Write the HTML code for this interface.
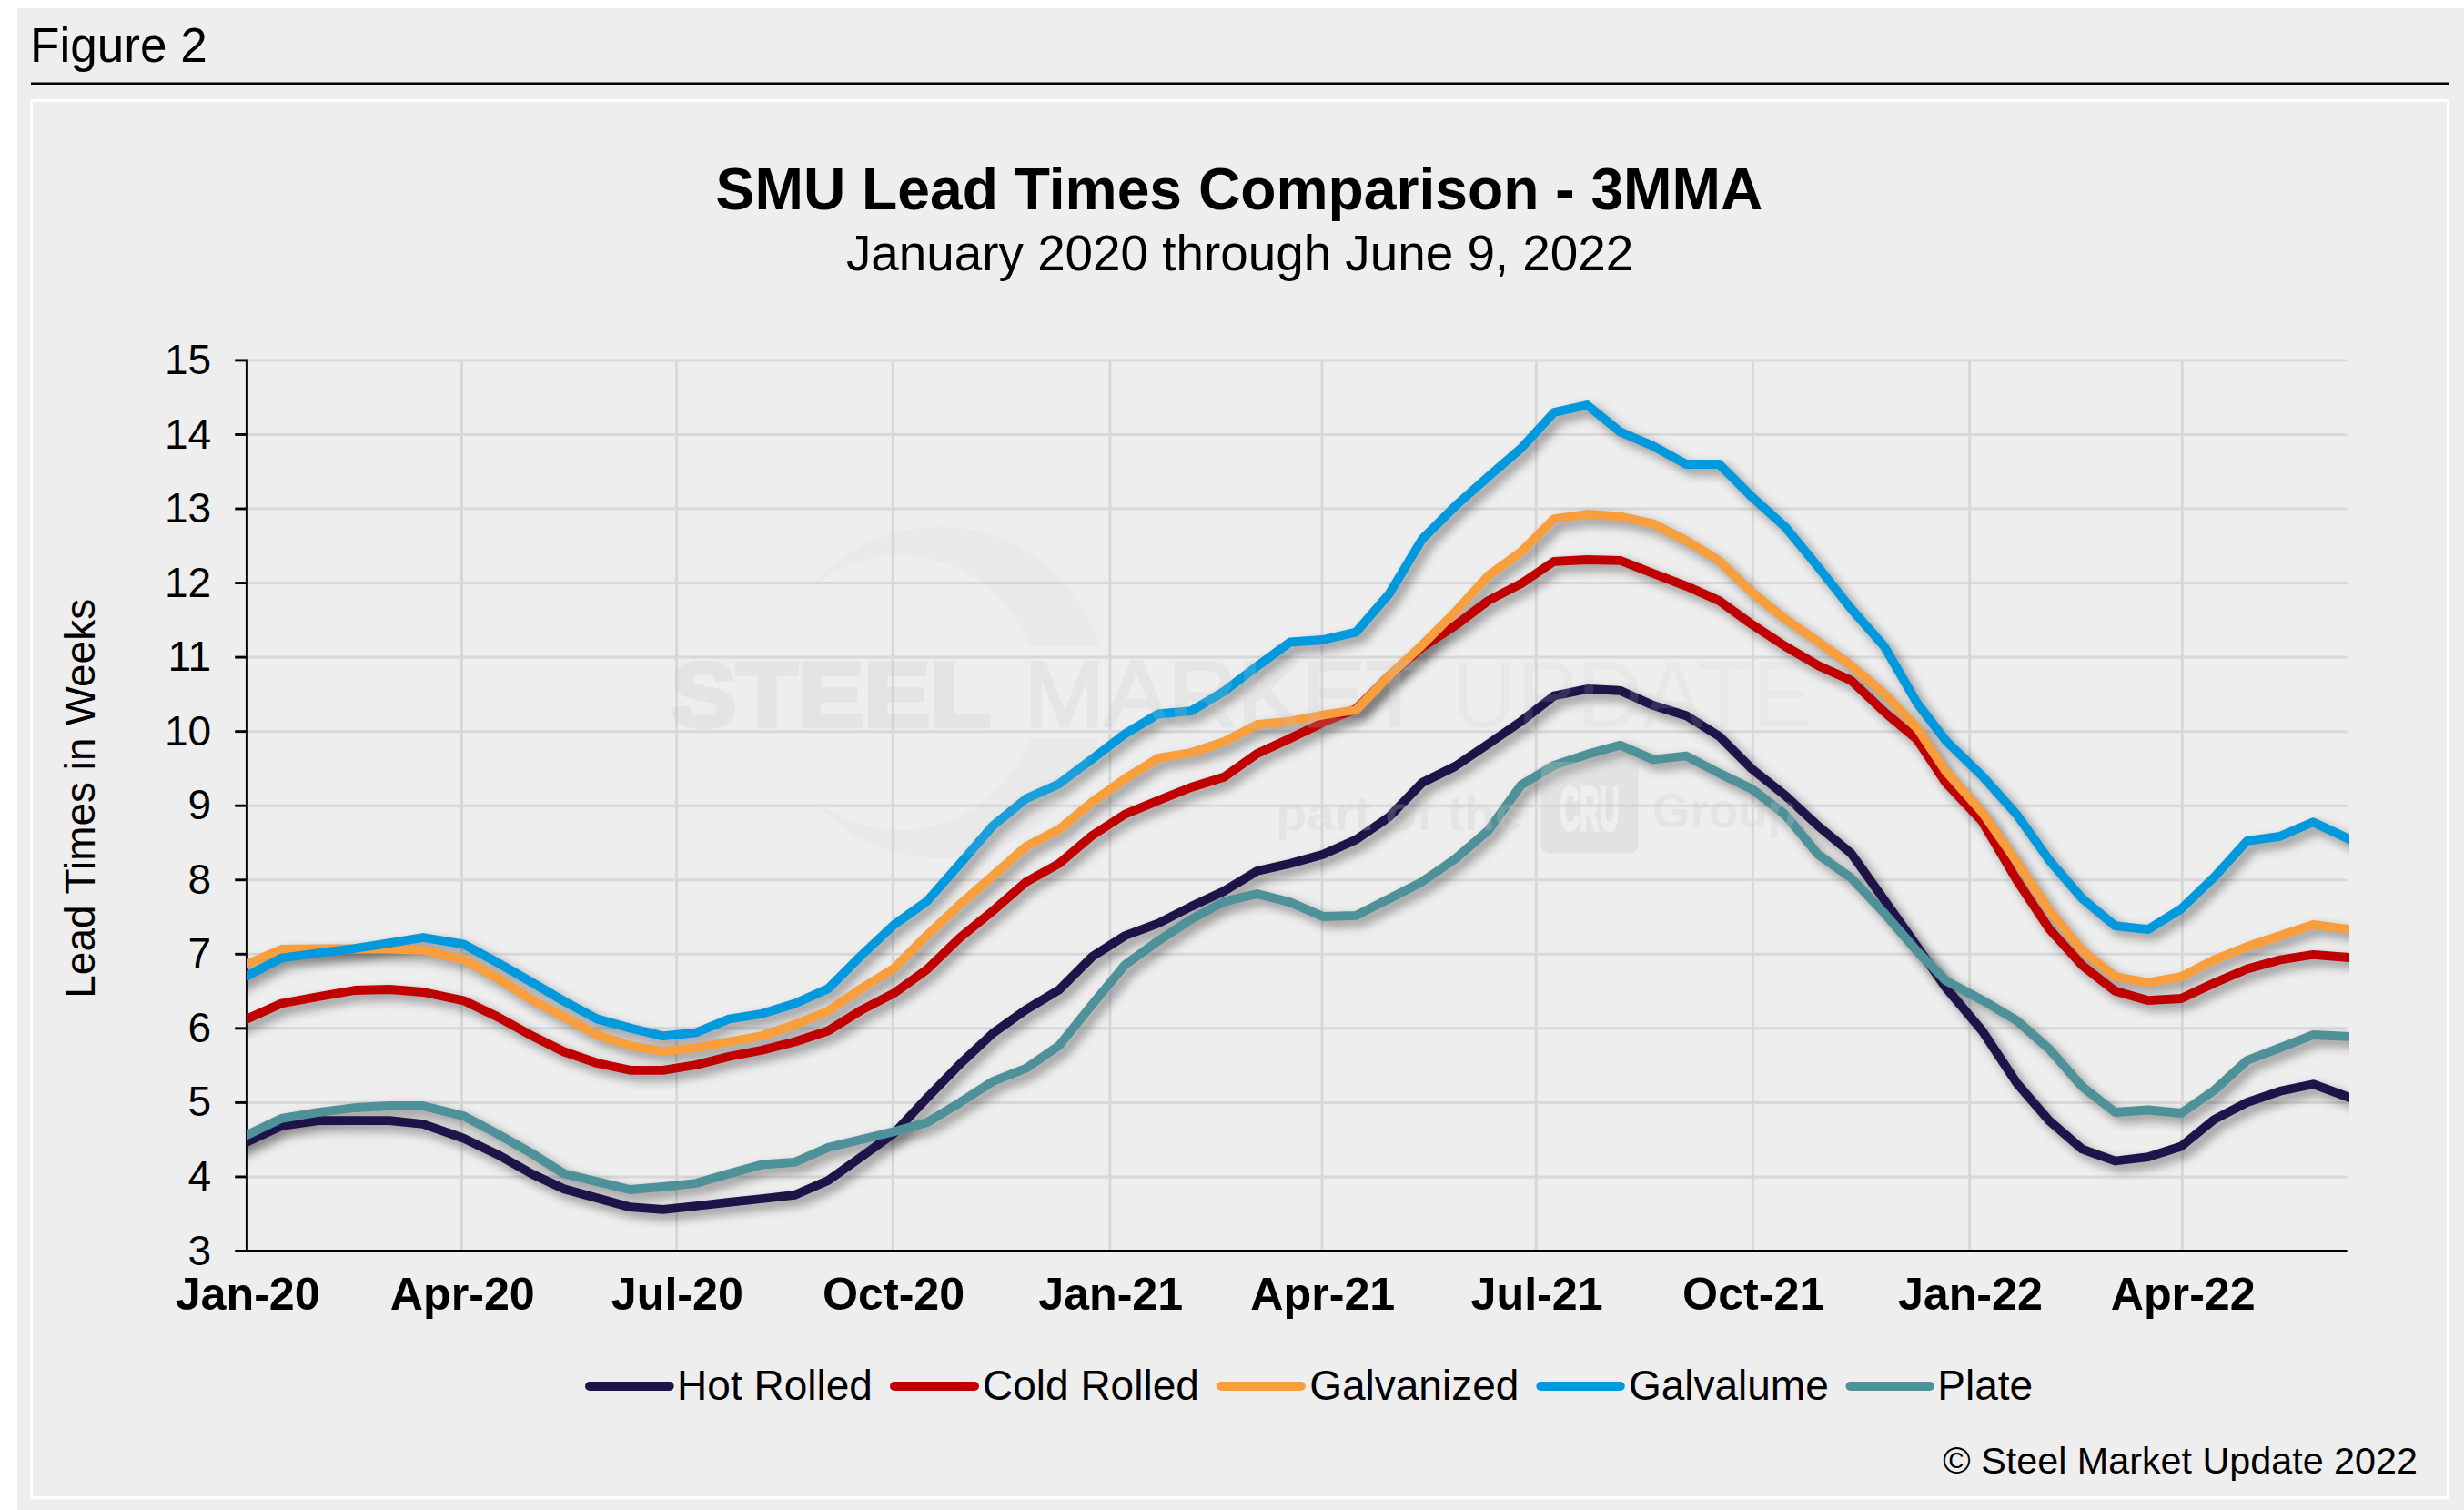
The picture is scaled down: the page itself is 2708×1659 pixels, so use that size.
<!DOCTYPE html>
<html lang="en">
<head>
<meta charset="utf-8">
<title>Figure 2 - SMU Lead Times Comparison - 3MMA</title>
<style>
html,body{margin:0;padding:0;background:#ffffff;}
body{width:2708px;height:1659px;overflow:hidden;}
svg{display:block;font-family:"Liberation Sans", Arial, Helvetica, sans-serif;}
.grid line{stroke:#d8d8d8;stroke-width:3;}
.axis line{stroke:#000;stroke-width:2.9;}
.ser polyline{fill:none;stroke-width:9.8;stroke-linejoin:round;stroke-linecap:round;}
.leg line{stroke-width:10;stroke-linecap:round;}
.ylab text{font-size:46px;text-anchor:end;}
.xlab text{font-size:50.2px;font-weight:bold;text-anchor:middle;}
.leg text{font-size:46px;}
.wm{fill:#e4e4e4;}
</style>
</head>
<body>
<svg width="2708" height="1659" viewBox="0 0 2708 1659">
<defs>
<filter id="sh" x="-5%" y="-5%" width="110%" height="115%" filterUnits="objectBoundingBox" color-interpolation-filters="sRGB">
<feGaussianBlur in="SourceAlpha" stdDeviation="5.6"/>
<feOffset dx="5.8" dy="5.8" result="b"/>
<feFlood flood-color="#000" flood-opacity="0.42"/>
<feComposite in2="b" operator="in"/>
</filter>
<clipPath id="pc"><rect x="271.0" y="355.9" width="2311.0" height="1058.6"/></clipPath>
</defs>
<rect x="0" y="0" width="2708" height="1659" fill="#ffffff"/>
<rect x="19" y="9" width="2689" height="1650" fill="#eeeeee"/>
<text x="33" y="68" font-size="53.1">Figure 2</text>
<line x1="34" y1="91.75" x2="2691" y2="91.75" stroke="#000" stroke-width="2.5"/>
<rect x="34.5" y="110.5" width="2656" height="1535" fill="none" stroke="#ffffff" stroke-width="3"/>
<text x="1362" y="229.6" font-size="64.2" font-weight="bold" text-anchor="middle">SMU Lead Times Comparison - 3MMA</text>
<text x="1362.6" y="296.8" font-size="54.8" text-anchor="middle">January 2020 through June 9, 2022</text>
<g class="grid">
<line x1="271.4" y1="1292.95" x2="2579.6" y2="1292.95"/>
<line x1="271.4" y1="1211.40" x2="2579.6" y2="1211.40"/>
<line x1="271.4" y1="1129.85" x2="2579.6" y2="1129.85"/>
<line x1="271.4" y1="1048.30" x2="2579.6" y2="1048.30"/>
<line x1="271.4" y1="966.75" x2="2579.6" y2="966.75"/>
<line x1="271.4" y1="885.20" x2="2579.6" y2="885.20"/>
<line x1="271.4" y1="803.65" x2="2579.6" y2="803.65"/>
<line x1="271.4" y1="722.10" x2="2579.6" y2="722.10"/>
<line x1="271.4" y1="640.55" x2="2579.6" y2="640.55"/>
<line x1="271.4" y1="559.00" x2="2579.6" y2="559.00"/>
<line x1="271.4" y1="477.45" x2="2579.6" y2="477.45"/>
<line x1="271.4" y1="395.90" x2="2579.6" y2="395.90"/>
<line x1="507.5" y1="394.6" x2="507.5" y2="1374.5"/>
<line x1="743.6" y1="394.6" x2="743.6" y2="1374.5"/>
<line x1="981.3" y1="394.6" x2="981.3" y2="1374.5"/>
<line x1="1219.9" y1="394.6" x2="1219.9" y2="1374.5"/>
<line x1="1453.0" y1="394.6" x2="1453.0" y2="1374.5"/>
<line x1="1688.3" y1="394.6" x2="1688.3" y2="1374.5"/>
<line x1="1926.4" y1="394.6" x2="1926.4" y2="1374.5"/>
<line x1="2164.6" y1="394.6" x2="2164.6" y2="1374.5"/>
<line x1="2398.4" y1="394.6" x2="2398.4" y2="1374.5"/>
</g>
<g class="axis">
<line x1="271.4" y1="394.4" x2="271.4" y2="1376.0"/>
<line x1="258.2" y1="1374.5" x2="2579.6" y2="1374.5"/>
<line x1="258.2" y1="1292.95" x2="271.4" y2="1292.95"/>
<line x1="258.2" y1="1211.40" x2="271.4" y2="1211.40"/>
<line x1="258.2" y1="1129.85" x2="271.4" y2="1129.85"/>
<line x1="258.2" y1="1048.30" x2="271.4" y2="1048.30"/>
<line x1="258.2" y1="966.75" x2="271.4" y2="966.75"/>
<line x1="258.2" y1="885.20" x2="271.4" y2="885.20"/>
<line x1="258.2" y1="803.65" x2="271.4" y2="803.65"/>
<line x1="258.2" y1="722.10" x2="271.4" y2="722.10"/>
<line x1="258.2" y1="640.55" x2="271.4" y2="640.55"/>
<line x1="258.2" y1="559.00" x2="271.4" y2="559.00"/>
<line x1="258.2" y1="477.45" x2="271.4" y2="477.45"/>
<line x1="258.2" y1="395.90" x2="271.4" y2="395.90"/>
</g>
<g class="ylab">
<text x="232.2" y="1389.5">3</text>
<text x="232.2" y="1308.0">4</text>
<text x="232.2" y="1226.4">5</text>
<text x="232.2" y="1144.8">6</text>
<text x="232.2" y="1063.3">7</text>
<text x="232.2" y="981.8">8</text>
<text x="232.2" y="900.2">9</text>
<text x="232.2" y="818.6">10</text>
<text x="232.2" y="737.1">11</text>
<text x="232.2" y="655.6">12</text>
<text x="232.2" y="574.0">13</text>
<text x="232.2" y="492.5">14</text>
<text x="232.2" y="410.9">15</text>
</g>
<text transform="translate(103.9,877.3) rotate(-90)" font-size="46" text-anchor="middle">Lead Times in Weeks</text>
<g class="xlab">
<text x="272.2" y="1439.3">Jan-20</text>
<text x="508.3" y="1439.3">Apr-20</text>
<text x="744.4" y="1439.3">Jul-20</text>
<text x="982.1" y="1439.3">Oct-20</text>
<text x="1220.7" y="1439.3">Jan-21</text>
<text x="1453.8" y="1439.3">Apr-21</text>
<text x="1689.1" y="1439.3">Jul-21</text>
<text x="1927.2" y="1439.3">Oct-21</text>
<text x="2165.4" y="1439.3">Jan-22</text>
<text x="2399.2" y="1439.3">Apr-22</text>
</g>
<g class="ser" clip-path="url(#pc)">
<polyline filter="url(#sh)" stroke="#000" points="241.5,1268.4 271.5,1254.5 309.2,1237.0 350.0,1231.2 390.0,1231.2 428.0,1231.2 465.0,1235.0 510.0,1250.8 547.5,1268.8 585.0,1290.0 619.9,1306.2 656.2,1316.2 692.5,1326.2 728.7,1328.8 765.0,1325.0 801.3,1320.8 837.5,1317.0 873.8,1312.8 910.1,1297.0 946.3,1271.2 982.6,1245.0 1018.9,1206.2 1055.2,1168.8 1091.4,1135.0 1127.7,1109.2 1164.0,1087.5 1200.2,1051.2 1236.5,1028.0 1272.8,1014.5 1309.0,996.0 1345.3,979.0 1381.6,957.0 1417.9,948.8 1454.1,938.8 1490.4,922.5 1526.7,897.5 1562.9,860.0 1599.2,842.0 1635.5,817.5 1671.8,792.5 1708.0,764.5 1744.3,757.0 1780.6,758.8 1816.8,775.0 1853.1,786.2 1889.4,808.8 1925.6,845.0 1961.9,873.8 1998.2,907.5 2034.4,937.5 2070.7,988.5 2107.0,1040.0 2138.5,1085.0 2178.5,1132.5 2216.5,1190.0 2252.1,1231.2 2288.3,1262.5 2324.6,1275.5 2360.9,1271.2 2397.2,1259.5 2433.4,1230.0 2469.7,1211.2 2506.0,1198.8 2542.2,1191.2 2582.0,1205.8 2612.0,1216.7"/>
<polyline filter="url(#sh)" stroke="#000" points="241.5,1133.0 271.5,1119.5 309.2,1102.5 350.0,1095.0 390.0,1088.0 428.0,1087.0 465.0,1090.0 510.0,1099.5 547.5,1117.5 585.0,1138.2 619.9,1155.5 656.2,1168.0 692.5,1175.8 728.7,1175.8 765.0,1170.0 801.3,1160.8 837.5,1153.8 873.8,1144.5 910.1,1132.5 946.3,1110.0 982.6,1091.2 1018.9,1065.0 1055.2,1030.0 1091.4,1000.5 1127.7,969.0 1164.0,948.8 1200.2,918.0 1236.5,894.5 1272.8,879.5 1309.0,865.0 1345.3,853.8 1381.6,828.0 1417.9,811.2 1454.1,793.8 1490.4,778.8 1526.7,742.5 1562.9,711.2 1599.2,687.5 1635.5,660.0 1671.8,641.2 1708.0,616.8 1744.3,615.0 1780.6,615.8 1816.8,630.0 1853.1,643.8 1889.4,660.0 1925.6,686.2 1961.9,710.0 1998.2,731.2 2034.4,747.5 2070.7,782.0 2107.0,812.5 2138.5,860.0 2178.5,902.5 2216.5,967.0 2252.1,1020.5 2288.3,1060.5 2324.6,1088.8 2360.9,1099.2 2397.2,1097.0 2433.4,1080.0 2469.7,1064.5 2506.0,1054.5 2542.2,1048.8 2582.0,1052.0 2612.0,1054.5"/>
<polyline filter="url(#sh)" stroke="#000" points="241.5,1072.4 271.5,1059.4 309.2,1043.0 350.0,1042.5 390.0,1042.5 428.0,1042.5 465.0,1043.8 510.0,1054.5 547.5,1075.0 585.0,1098.8 619.9,1117.5 656.2,1137.0 692.5,1148.8 728.7,1155.0 765.0,1151.2 801.3,1144.5 837.5,1138.0 873.8,1125.5 910.1,1110.8 946.3,1086.2 982.6,1063.8 1018.9,1027.5 1055.2,993.5 1091.4,962.0 1127.7,930.0 1164.0,911.2 1200.2,881.2 1236.5,855.5 1272.8,833.0 1309.0,827.0 1345.3,815.0 1381.6,796.2 1417.9,792.5 1454.1,785.5 1490.4,780.0 1526.7,742.5 1562.9,708.8 1599.2,672.5 1635.5,632.5 1671.8,606.2 1708.0,570.0 1744.3,565.0 1780.6,567.5 1816.8,575.5 1853.1,593.8 1889.4,616.2 1925.6,651.2 1961.9,680.0 1998.2,705.0 2034.4,731.2 2070.7,762.0 2107.0,800.0 2138.5,847.5 2178.5,892.5 2216.5,947.0 2252.1,1000.0 2288.3,1044.5 2324.6,1073.0 2360.9,1079.5 2397.2,1073.2 2433.4,1054.5 2469.7,1040.0 2506.0,1028.0 2542.2,1015.8 2582.0,1021.2 2612.0,1025.4"/>
<polyline filter="url(#sh)" stroke="#000" points="241.5,1088.0 271.5,1072.3 309.2,1052.5 350.0,1047.0 390.0,1042.0 428.0,1036.2 465.0,1030.0 510.0,1037.5 547.5,1058.0 585.0,1079.5 619.9,1100.0 656.2,1119.5 692.5,1129.5 728.7,1138.2 765.0,1134.5 801.3,1119.5 837.5,1113.8 873.8,1102.5 910.1,1086.2 946.3,1050.0 982.6,1016.0 1018.9,990.0 1055.2,948.8 1091.4,907.0 1127.7,877.5 1164.0,861.2 1200.2,833.8 1236.5,806.2 1272.8,784.5 1309.0,781.2 1345.3,759.5 1381.6,732.0 1417.9,705.5 1454.1,703.0 1490.4,694.5 1526.7,652.5 1562.9,592.5 1599.2,556.2 1635.5,523.8 1671.8,492.5 1708.0,453.0 1744.3,445.0 1780.6,474.5 1816.8,490.0 1853.1,510.0 1889.4,510.0 1925.6,546.2 1961.9,578.8 1998.2,623.0 2034.4,668.8 2070.7,710.0 2107.0,772.5 2138.5,813.8 2178.5,852.5 2216.5,895.0 2252.1,945.0 2288.3,987.0 2324.6,1017.2 2360.9,1021.2 2397.2,998.5 2433.4,963.8 2469.7,923.8 2506.0,918.8 2542.2,903.2 2582.0,922.0 2612.0,936.1"/>
<polyline filter="url(#sh)" stroke="#000" points="241.5,1261.5 271.5,1247.0 309.2,1228.8 350.0,1222.0 390.0,1217.0 428.0,1215.0 465.0,1215.0 510.0,1226.2 547.5,1246.2 585.0,1267.5 619.9,1289.5 656.2,1298.2 692.5,1307.0 728.7,1303.8 765.0,1300.0 801.3,1289.5 837.5,1279.5 873.8,1276.8 910.1,1260.8 946.3,1252.0 982.6,1243.2 1018.9,1233.2 1055.2,1211.2 1091.4,1188.0 1127.7,1173.8 1164.0,1148.8 1200.2,1103.8 1236.5,1060.0 1272.8,1033.8 1309.0,1010.0 1345.3,990.5 1381.6,982.0 1417.9,991.2 1454.1,1007.0 1490.4,1005.8 1526.7,987.5 1562.9,968.8 1599.2,943.8 1635.5,912.5 1671.8,862.5 1708.0,840.8 1744.3,828.8 1780.6,818.8 1816.8,834.5 1853.1,830.5 1889.4,849.5 1925.6,867.0 1961.9,895.0 1998.2,938.8 2034.4,964.5 2070.7,1003.0 2107.0,1045.0 2138.5,1077.5 2178.5,1098.8 2216.5,1121.2 2252.1,1152.5 2288.3,1193.8 2324.6,1222.0 2360.9,1219.5 2397.2,1223.0 2433.4,1198.0 2469.7,1165.0 2506.0,1151.2 2542.2,1137.0 2582.0,1138.8 2612.0,1140.1"/>
<polyline stroke="#1f1449" points="241.5,1268.4 271.5,1254.5 309.2,1237.0 350.0,1231.2 390.0,1231.2 428.0,1231.2 465.0,1235.0 510.0,1250.8 547.5,1268.8 585.0,1290.0 619.9,1306.2 656.2,1316.2 692.5,1326.2 728.7,1328.8 765.0,1325.0 801.3,1320.8 837.5,1317.0 873.8,1312.8 910.1,1297.0 946.3,1271.2 982.6,1245.0 1018.9,1206.2 1055.2,1168.8 1091.4,1135.0 1127.7,1109.2 1164.0,1087.5 1200.2,1051.2 1236.5,1028.0 1272.8,1014.5 1309.0,996.0 1345.3,979.0 1381.6,957.0 1417.9,948.8 1454.1,938.8 1490.4,922.5 1526.7,897.5 1562.9,860.0 1599.2,842.0 1635.5,817.5 1671.8,792.5 1708.0,764.5 1744.3,757.0 1780.6,758.8 1816.8,775.0 1853.1,786.2 1889.4,808.8 1925.6,845.0 1961.9,873.8 1998.2,907.5 2034.4,937.5 2070.7,988.5 2107.0,1040.0 2138.5,1085.0 2178.5,1132.5 2216.5,1190.0 2252.1,1231.2 2288.3,1262.5 2324.6,1275.5 2360.9,1271.2 2397.2,1259.5 2433.4,1230.0 2469.7,1211.2 2506.0,1198.8 2542.2,1191.2 2582.0,1205.8 2612.0,1216.7"/>
<polyline stroke="#c00000" points="241.5,1133.0 271.5,1119.5 309.2,1102.5 350.0,1095.0 390.0,1088.0 428.0,1087.0 465.0,1090.0 510.0,1099.5 547.5,1117.5 585.0,1138.2 619.9,1155.5 656.2,1168.0 692.5,1175.8 728.7,1175.8 765.0,1170.0 801.3,1160.8 837.5,1153.8 873.8,1144.5 910.1,1132.5 946.3,1110.0 982.6,1091.2 1018.9,1065.0 1055.2,1030.0 1091.4,1000.5 1127.7,969.0 1164.0,948.8 1200.2,918.0 1236.5,894.5 1272.8,879.5 1309.0,865.0 1345.3,853.8 1381.6,828.0 1417.9,811.2 1454.1,793.8 1490.4,778.8 1526.7,742.5 1562.9,711.2 1599.2,687.5 1635.5,660.0 1671.8,641.2 1708.0,616.8 1744.3,615.0 1780.6,615.8 1816.8,630.0 1853.1,643.8 1889.4,660.0 1925.6,686.2 1961.9,710.0 1998.2,731.2 2034.4,747.5 2070.7,782.0 2107.0,812.5 2138.5,860.0 2178.5,902.5 2216.5,967.0 2252.1,1020.5 2288.3,1060.5 2324.6,1088.8 2360.9,1099.2 2397.2,1097.0 2433.4,1080.0 2469.7,1064.5 2506.0,1054.5 2542.2,1048.8 2582.0,1052.0 2612.0,1054.5"/>
<polyline stroke="#f89e3c" points="241.5,1072.4 271.5,1059.4 309.2,1043.0 350.0,1042.5 390.0,1042.5 428.0,1042.5 465.0,1043.8 510.0,1054.5 547.5,1075.0 585.0,1098.8 619.9,1117.5 656.2,1137.0 692.5,1148.8 728.7,1155.0 765.0,1151.2 801.3,1144.5 837.5,1138.0 873.8,1125.5 910.1,1110.8 946.3,1086.2 982.6,1063.8 1018.9,1027.5 1055.2,993.5 1091.4,962.0 1127.7,930.0 1164.0,911.2 1200.2,881.2 1236.5,855.5 1272.8,833.0 1309.0,827.0 1345.3,815.0 1381.6,796.2 1417.9,792.5 1454.1,785.5 1490.4,780.0 1526.7,742.5 1562.9,708.8 1599.2,672.5 1635.5,632.5 1671.8,606.2 1708.0,570.0 1744.3,565.0 1780.6,567.5 1816.8,575.5 1853.1,593.8 1889.4,616.2 1925.6,651.2 1961.9,680.0 1998.2,705.0 2034.4,731.2 2070.7,762.0 2107.0,800.0 2138.5,847.5 2178.5,892.5 2216.5,947.0 2252.1,1000.0 2288.3,1044.5 2324.6,1073.0 2360.9,1079.5 2397.2,1073.2 2433.4,1054.5 2469.7,1040.0 2506.0,1028.0 2542.2,1015.8 2582.0,1021.2 2612.0,1025.4"/>
<polyline stroke="#0099dd" points="241.5,1088.0 271.5,1072.3 309.2,1052.5 350.0,1047.0 390.0,1042.0 428.0,1036.2 465.0,1030.0 510.0,1037.5 547.5,1058.0 585.0,1079.5 619.9,1100.0 656.2,1119.5 692.5,1129.5 728.7,1138.2 765.0,1134.5 801.3,1119.5 837.5,1113.8 873.8,1102.5 910.1,1086.2 946.3,1050.0 982.6,1016.0 1018.9,990.0 1055.2,948.8 1091.4,907.0 1127.7,877.5 1164.0,861.2 1200.2,833.8 1236.5,806.2 1272.8,784.5 1309.0,781.2 1345.3,759.5 1381.6,732.0 1417.9,705.5 1454.1,703.0 1490.4,694.5 1526.7,652.5 1562.9,592.5 1599.2,556.2 1635.5,523.8 1671.8,492.5 1708.0,453.0 1744.3,445.0 1780.6,474.5 1816.8,490.0 1853.1,510.0 1889.4,510.0 1925.6,546.2 1961.9,578.8 1998.2,623.0 2034.4,668.8 2070.7,710.0 2107.0,772.5 2138.5,813.8 2178.5,852.5 2216.5,895.0 2252.1,945.0 2288.3,987.0 2324.6,1017.2 2360.9,1021.2 2397.2,998.5 2433.4,963.8 2469.7,923.8 2506.0,918.8 2542.2,903.2 2582.0,922.0 2612.0,936.1"/>
<polyline stroke="#4f9199" points="241.5,1261.5 271.5,1247.0 309.2,1228.8 350.0,1222.0 390.0,1217.0 428.0,1215.0 465.0,1215.0 510.0,1226.2 547.5,1246.2 585.0,1267.5 619.9,1289.5 656.2,1298.2 692.5,1307.0 728.7,1303.8 765.0,1300.0 801.3,1289.5 837.5,1279.5 873.8,1276.8 910.1,1260.8 946.3,1252.0 982.6,1243.2 1018.9,1233.2 1055.2,1211.2 1091.4,1188.0 1127.7,1173.8 1164.0,1148.8 1200.2,1103.8 1236.5,1060.0 1272.8,1033.8 1309.0,1010.0 1345.3,990.5 1381.6,982.0 1417.9,991.2 1454.1,1007.0 1490.4,1005.8 1526.7,987.5 1562.9,968.8 1599.2,943.8 1635.5,912.5 1671.8,862.5 1708.0,840.8 1744.3,828.8 1780.6,818.8 1816.8,834.5 1853.1,830.5 1889.4,849.5 1925.6,867.0 1961.9,895.0 1998.2,938.8 2034.4,964.5 2070.7,1003.0 2107.0,1045.0 2138.5,1077.5 2178.5,1098.8 2216.5,1121.2 2252.1,1152.5 2288.3,1193.8 2324.6,1222.0 2360.9,1219.5 2397.2,1223.0 2433.4,1198.0 2469.7,1165.0 2506.0,1151.2 2542.2,1137.0 2582.0,1138.8 2612.0,1140.1"/>
</g>
<g clip-path="url(#pc)" fill="#c8c8c8" stroke="#c8c8c8" stroke-width="0">
<clipPath id="wmc"><path d="M820 560H1240V709.7H820ZM820 810.4H1240V960H820Z"/></clipPath>
<mask id="cru" maskUnits="userSpaceOnUse" x="1690" y="830" width="115" height="112"><rect x="1693.7" y="837" width="106.8" height="100.5" rx="9" ry="9" fill="#fff" stroke="none"/><text transform="translate(1714,912) scale(0.44,1)" font-size="69" font-weight="bold" fill="#000" stroke="#000" stroke-width="3">CRU</text></mask>
<path clip-path="url(#wmc)" opacity="0.13" d="M893 644A182 182 0 1 1 893 877.4A151 151 0 1 0 893 644Z"/>
<text x="737" y="798" font-size="101" font-weight="bold" opacity="0.26" stroke-width="5" stroke-linejoin="miter" textLength="352" lengthAdjust="spacingAndGlyphs">STEEL</text>
<text x="1126" y="797.8" font-size="102" opacity="0.21" stroke-width="3" textLength="439" lengthAdjust="spacingAndGlyphs">MARKET</text>
<text x="1595" y="798.5" font-size="103" opacity="0.14" textLength="397" lengthAdjust="spacingAndGlyphs">UPDATE</text>
<text x="1402" y="912" font-size="54" font-weight="bold" opacity="0.24" textLength="272" lengthAdjust="spacingAndGlyphs">part of the</text>
<rect x="1690" y="830" width="115" height="112" opacity="0.29" mask="url(#cru)"/>
<text x="1816" y="909" font-size="54" font-weight="bold" opacity="0.24" textLength="159" lengthAdjust="spacingAndGlyphs">Group</text>
</g>
<g class="leg">
<line x1="648.0" y1="1523" x2="735.7" y2="1523" stroke="#1f1449"/><text x="744.1" y="1538.2">Hot Rolled</text>
<line x1="983.0" y1="1523" x2="1071.0" y2="1523" stroke="#c00000"/><text x="1080.0" y="1538.2">Cold Rolled</text>
<line x1="1342.2" y1="1523" x2="1429.8" y2="1523" stroke="#f89e3c"/><text x="1439.2" y="1538.2">Galvanized</text>
<line x1="1693.4" y1="1523" x2="1780.8" y2="1523" stroke="#0099dd"/><text x="1789.9" y="1538.2">Galvalume</text>
<line x1="2033.5" y1="1523" x2="2120.9" y2="1523" stroke="#4f9199"/><text x="2129.3" y="1538.2">Plate</text>
</g>
<text x="2657" y="1619" font-size="41.3" text-anchor="end">© Steel Market Update 2022</text>
</svg>
</body>
</html>
